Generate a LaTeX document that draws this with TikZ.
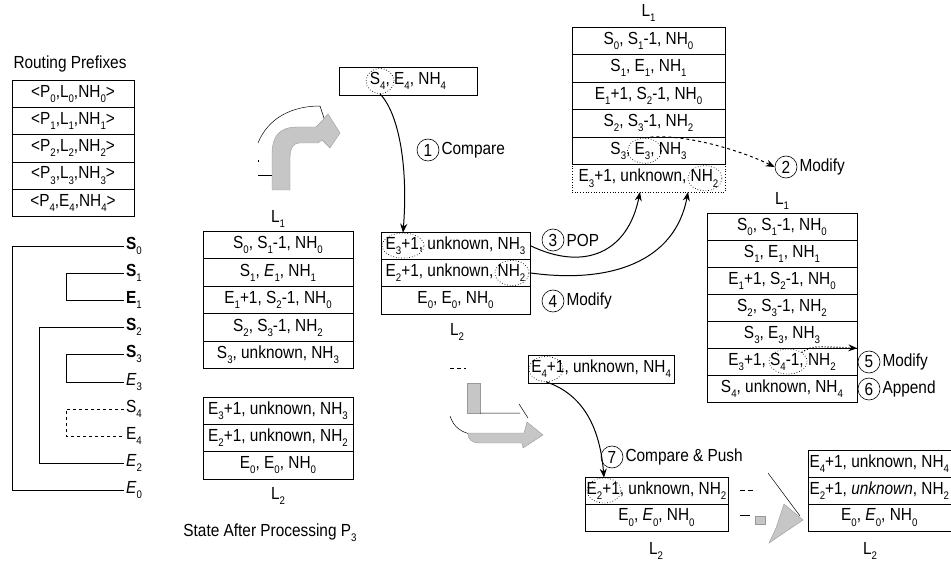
\documentclass[tikz,border=0pt]{standalone}
\usepackage{fontspec}
\setmainfont{Liberation Sans}[FakeStretch=0.88]
\usetikzlibrary{arrows.meta,shapes.geometric,calc}
\newcommand\dn[1]{\raisebox{-0.55ex}{\fontsize{11}{11}\selectfont #1}}
\begin{document}
\begin{tikzpicture}[x=1pt,y=-1pt,font=\fontsize{17.5}{19}\selectfont,
  cell/.style={draw,line width=0.6pt,inner sep=0pt,minimum height=27.5pt},
  oval/.style={ellipse,draw,dotted,line width=0.7pt,inner sep=0pt,minimum height=25pt,minimum width=#1},
  num/.style={circle,draw,line width=0.6pt,inner sep=0pt,minimum size=22pt},
  arr/.style={-{Stealth[length=9pt,width=7pt]},line width=1pt},
  grayarrow/.style={fill=gray!45,draw=gray!80,line width=0.4pt},
  lbl/.style={anchor=west,inner sep=2pt}]
\useasboundingbox (0,0) rectangle (951,561);

% ---------- Routing prefixes
\node (rpt) at (70,64) {Routing Prefixes};
\foreach \t [count=\i] in {{<P\dn0,L\dn0,NH\dn0>},{<P\dn1,L\dn1,NH\dn1>},{<P\dn2,L\dn2,NH\dn2>},{<P\dn3,L\dn3,NH\dn3>},{<P\dn4,E\dn4,NH\dn4>}}
  \node[cell,minimum width=122pt,minimum height=27.3pt] (rp\i) at (73,80+27.3*\i-13.65) {\t};

% ---------- tree
\node[lbl] (tS0) at (124,246) {\textbf{S}\dn0};
\node[lbl] (tS1) at (124,273) {\textbf{S}\dn1};
\node[lbl] (tE1) at (124,300) {\textbf{E}\dn1};
\node[lbl] (tS2) at (124,327) {\textbf{S}\dn2};
\node[lbl] (tS3) at (124,354) {\textbf{S}\dn3};
\node[lbl] (tE3) at (124,382) {\textit{E}\dn3};
\node[lbl] (tS4) at (124,409) {S\dn4};
\node[lbl] (tE4) at (124,436) {E\dn4};
\node[lbl] (tE2) at (124,463) {\textit{E}\dn2};
\node[lbl] (tE0) at (124,490) {\textit{E}\dn0};
\draw[line width=0.6pt] (tS0.west) -- ++(-112,0) |- (tE0.west);
\draw[line width=0.6pt] (tS2.west) -- ++(-85,0) |- (tE2.west);
\draw[line width=0.6pt] (tS1.west) -- ++(-58,0) |- (tE1.west);
\draw[line width=0.6pt] (tS3.west) -- ++(-58,0) |- (tE3.west);
\draw[line width=0.8pt,dashed] (tS4.west) -- ++(-58,0) |- (tE4.west);

% ---------- gray arrow 1
\draw[line width=0.5pt] (258,143) .. controls (268,118) and (292,106) .. (320,106) -- (326,124);
\draw[grayarrow] (272,190) -- (272,155) .. controls (272,135) and (280,127) .. (298,127)
  -- (316,127) -- (322,121) -- (328,114) -- (340,133) -- (330,148) -- (322,140) -- (318,143)
  -- (300,143) .. controls (293,143) and (290,148) .. (290,158) -- (290,190) -- cycle;
\draw[line width=0.5pt] (258,160) -- (258,162) (258,175) -- (272,175);

% ---------- state after P3
\node (mL) at (278,219) {L\dn1};
\foreach \t [count=\i] in {{S\dn0, S\dn1-1, NH\dn0},{S\dn1, \textit{E}\dn1, NH\dn1},{E\dn1+1, S\dn2-1, NH\dn0},{S\dn2, S\dn3-1, NH\dn2},{S\dn3, unknown, NH\dn3}}
  \node[cell,minimum width=150pt] (m\i) at (278,231.25+27.5*\i-13.75) {\t};
\foreach \t [count=\i] in {{E\dn3+1, unknown, NH\dn3},{E\dn2+1, unknown, NH\dn2},{E\dn0, E\dn0, NH\dn0}}
  \node[cell,minimum width=150pt,minimum height=27.3pt] (n\i) at (278,397+27.3*\i-13.65) {\t};
\node (nL) at (278,496) {L\dn2};
\node (state) at (270,533) {State After Processing P\dn3};

% ---------- S4 box and step 1
\node[cell,minimum width=138pt,minimum height=28pt] (s4) at (408,81) {S\dn4, E\dn4, NH\dn4};
\node[oval=28pt] (o1) at (380,81) {};
\node[num] (c1) at (428,150) {1};
\node[lbl] at (c1.east) {Compare};

% ---------- L2 middle
\foreach \t [count=\i] in {{E\dn3+1, unknown, NH\dn3},{E\dn2+1, unknown, NH\dn2},{E\dn0, E\dn0, NH\dn0}}
  \node[cell,minimum width=149pt,minimum height=27.3pt] (q\i) at (455.5,232+27.3*\i-13.65) {\t};
\node (qL) at (457,332) {L\dn2};
\node[oval=42pt] (o2) at (403,245.6) {};
\node[oval=34pt] (o3) at (512,273) {};
\draw[arr] (o1.south) .. controls (400,115) and (408,170) .. (o2.north);
\node[num] (c3) at (553,240) {3};
\node[lbl] at (c3.east) {POP};
\node[num] (c4) at (553,301) {4};
\node[lbl] at (c4.east) {Modify};

% ---------- L1 top right
\node (tL) at (648.5,13) {L\dn1};
\foreach \t [count=\i] in {{S\dn0, S\dn1-1, NH\dn0},{S\dn1, E\dn1, NH\dn1},{E\dn1+1, S\dn2-1, NH\dn0},{S\dn2, S\dn3-1, NH\dn2},{S\dn3, E\dn3, NH\dn3}}
  \node[cell,minimum width=153pt] (r\i) at (648.5,27+27.5*\i-13.75) {\t};
\node[draw,dotted,line width=0.7pt,inner sep=0pt,minimum width=153pt,minimum height=27.5pt] (r6) at (648.5,178.25) {E\dn3+1, unknown, NH\dn2};
\node[oval=34pt] (o4) at (644.5,150.75) {};
\node[oval=34pt] (o5) at (705,178.25) {};
\coordinate (p1) at (640,192);
\coordinate (p2) at (688,192);
\draw[arr] (q1.east) .. controls (585,272) and (628,252) .. (p1);
\draw[arr] (q2.east) .. controls (610,284) and (675,262) .. (p2);
\node[num] (c2) at (786,167) {2};
\node[lbl] at (c2.east) {Modify};
\draw[arr,dashed] (o4.north) .. controls (680,132) and (740,150) .. (c2.west);

% ---------- L1 right
\node (uL) at (782,201) {L\dn1};
\foreach \t [count=\i] in {{S\dn0, S\dn1-1, NH\dn0},{S\dn1, E\dn1, NH\dn1},{E\dn1+1, S\dn2-1, NH\dn0},{S\dn2, S\dn3-1, NH\dn2},{S\dn3, E\dn3, NH\dn3},{E\dn3+1, S\dn4-1, NH\dn2},{S\dn4, unknown, NH\dn4}}
  \node[cell,minimum width=150pt,minimum height=27pt] (u\i) at (782,213+27*\i-13.5) {\t};
\node[oval=38pt] (o6) at (788,361.5) {};
\node[num] (c5) at (869,362) {5};
\node[lbl] at (c5.east) {Modify};
\node[num] (c6) at (869,389) {6};
\node[lbl] at (c6.east) {Append};
\draw[arr,dotted,line width=1.2pt] (o6.north east) .. controls (812,346) .. (u5.south east);

% ---------- gray arrow 2
\draw[line width=0.6pt,dash pattern=on 4pt off 3pt] (450,368) -- (466,368);
\draw[grayarrow] (467,383) rectangle (480,413);
\draw[line width=0.5pt] (480,413) -- (520,413) (519,404) -- (528,418);
\draw[line width=0.5pt] (450,416) .. controls (454,428) and (462,432) .. (470,434);
\draw[grayarrow] (468,433) -- (524,433) -- (527,422) -- (543,435) -- (523,448)
  -- (522,443) -- (480,443) .. controls (472,443) and (468,440) .. (468,433) -- cycle;

% ---------- step 7
\node[cell,anchor=west,minimum height=28pt,inner xsep=3pt] (e4) at (528,369) {E\dn4+1, unknown, NH\dn4};
\node[oval=34pt] (o7) at (546,369) {};
\node[num] (c7) at (612,457) {7};
\node[lbl] at (c7.east) {Compare \& Push};
\foreach \t [count=\i] in {{E\dn2+1, unknown, NH\dn2},{E\dn0, \textit{E}\dn0, NH\dn0}}
  \node[cell,minimum width=143pt,minimum height=27pt] (b\i) at (656.5,477+27*\i-13.5) {\t};
\node (bL) at (656,551) {L\dn2};
\node[oval=34pt] (o8) at (604,490.5) {};
\draw[arr] (o7.south) .. controls (585,395) and (600,430) .. (o8.north);

% ---------- gray arrow 3
\draw[line width=0.6pt,dash pattern=on 5pt off 3pt] (740,490) -- (756,490);
\draw[line width=0.6pt] (740,515) -- (750,515);
\draw[grayarrow] (755,516) rectangle (765,524);
\draw[line width=0.5pt] (768,473) -- (800,516);
\draw[grayarrow] (784,504) -- (803,520) -- (769,543) -- (776,528) -- cycle;

% ---------- final L2
\foreach \t [count=\i] in {{E\dn4+1, unknown, NH\dn4},{E\dn2+1, \textit{unknown}, NH\dn2},{E\dn0, \textit{E}\dn0, NH\dn0}}
  \node[cell,anchor=west,minimum width=143pt,minimum height=27pt] (f\i) at (807.5,450+27*\i-13.5) {\t};
\node (fL) at (870,551) {L\dn2};
\end{tikzpicture}
\end{document}
